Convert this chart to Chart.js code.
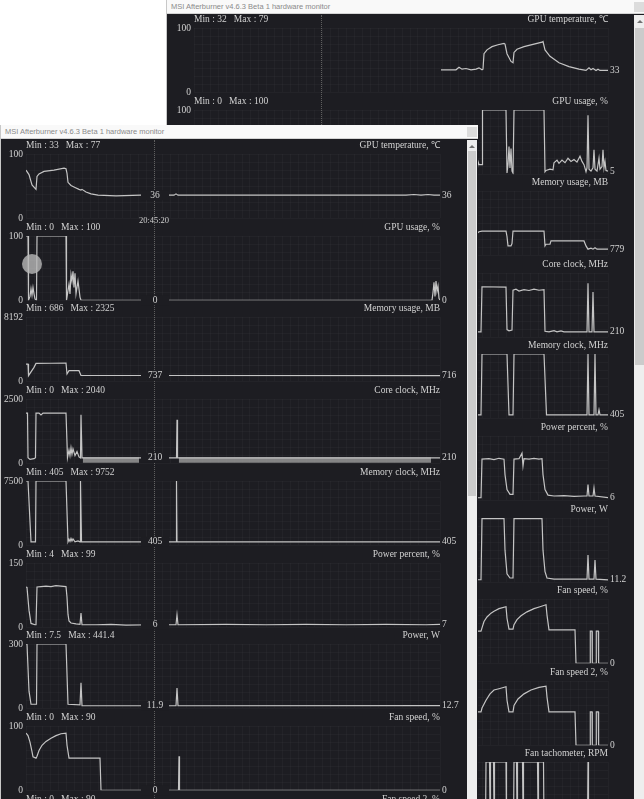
<!DOCTYPE html>
<html>
<head>
<meta charset="utf-8">
<title>MSI Afterburner hardware monitor</title>
<script src="https://cdn.jsdelivr.net/npm/chart.js@4.4.1/dist/chart.umd.min.js"></script>
<style>
  body { margin: 0; width: 644px; height: 799px; overflow: hidden; position: relative; background: #fff; }
  .win { position: absolute; overflow: hidden; background: #1d1d22; }
  .win canvas { position: absolute; }
  .titlebar { position: absolute; left: 0; top: 0; right: 0; height: 14px; background: #f9f9f9; border-bottom: 1px solid #d4d4d4;
              font: 7.5px 'Liberation Sans', sans-serif; color: #8a8a8a; line-height: 13px; padding-left: 4px; box-sizing: border-box; z-index: 3; }
  .closebox { position: absolute; top: 2px; width: 10px; height: 10px; background: #dcdcdc; }
  .scroll { position: absolute; top: 15px; bottom: 0; background: #eeeeee; z-index: 3; }
  .thumb { position: absolute; left: 1px; right: 1px; background: #cbcbcb; }
  .arrow { position: absolute; top: 5px; left: 50%; margin-left: -3px; width: 0; height: 0;
           border-left: 3px solid transparent; border-right: 3px solid transparent; border-bottom: 3px solid #707070; }
  .cursor { position: absolute; width: 0; border-left: 1px dotted #5e5e5e; z-index: 0; }
  .timelabel { position: absolute; width: 50px; text-align: center; font: 8.5px 'Liberation Serif', serif; color: #cfcfcf; z-index: 2; }
  .dot { position: absolute; width: 20px; height: 20px; border-radius: 50%; background: rgba(185,185,185,0.8); z-index: 2; }
</style>
</head>
<body>

<div class="win" id="back" style="left:166px; top:0; width:478px; height:799px; border-left:1px solid #c8c8c8;">
  <div class="titlebar">MSI Afterburner v4.6.3 Beta 1 hardware monitor<div class="closebox" style="right:1px"></div></div>
  <div class="cursor" style="left:154px; top:15px; height:784px;"></div>
  <div class="scroll" style="left:467px; width:11px;"><div class="arrow"></div><div class="thumb" style="top:13px; height:337px;"></div></div>
</div>

<div class="win" id="front" style="left:0; top:125px; width:477px; height:674px; border-left:1px solid #c8c8c8; z-index:5;">
  <div class="titlebar">MSI Afterburner v4.6.3 Beta 1 hardware monitor<div class="closebox" style="right:1px"></div></div>
  <div class="cursor" style="left:153px; top:15px; height:660px;"></div>
  <div class="timelabel" style="left:128px; top:90px;">20:45:20</div>
  <div class="dot" style="left:21px; top:129px;"></div>
  <div class="scroll" style="left:466px; width:10px;"><div class="arrow"></div><div class="thumb" style="top:11px; height:345px;"></div></div>
</div>

<script>
// time axis: 0..414 samples across the graph width, cursor sample marked by the dotted line

// ---------- front window (older session) ----------
const frontTitles = ['GPU temperature, ℃', 'GPU usage, %', 'Memory usage, MB', 'Core clock, MHz', 'Memory clock, MHz',
                     'Power percent, %', 'Power, W', 'Fan speed, %', 'Fan speed 2, %'];
const frontMinMax = ['Min : 33   Max : 77', 'Min : 0   Max : 100', 'Min : 686   Max : 2325', 'Min : 0   Max : 2040',
                     'Min : 405   Max : 9752', 'Min : 4   Max : 99', 'Min : 7.5   Max : 441.4', 'Min : 0   Max : 90', 'Min : 0   Max : 90'];
const frontTop = [100, 100, 8192, 2500, 7500, 150, 300, 100, 100];
const frontEnd = ['36', '0', '716', '210', '405', '7', '12.7', '0', ''];
const frontCursor = ['36', '0', '737', '210', '405', '6', '11.9', '0', ''];

const fTemp = [[0,75],[3,68],[6,52],[10,45],[11,65],[13,69],[18,73],[28,75],[38,78],[40,77],[41,70],[42,56],[45,51],[49,48],
  [53,45],[55,44],[56,45],[60,41],[65,38],[72,36],[90,35],[115,36],[148,36],[150,38],[152,36],[300,36],[380,36],[388,37],
  [395,36],[402,37],[408,36],[414,36]];
const fUsage = [[0,100],[2,100],[2.5,0],[4,6],[5,18],[6,8],[7,20],[8,10],[9,2],[10.5,0],[11,100],[40,100],[40.5,0],[43,25],
  [44,10],[45,40],[46,30],[47,45],[48,20],[49,42],[50,10],[52,30],[54,5],[55,0],[406,0],[407,12],[408,28],[409,6],[410,30],
  [411,14],[412,22],[413,3],[414,0]];
const fMemory = [[0,2190],[2,2190],[2.5,720],[8,1780],[10,2280],[25,2300],[40,2325],[41,930],[43,1350],[53,1350],[55,737],
  [128,737],[414,716]];
const fCore = [[0,1950],[1.5,1950],[2,220],[4,150],[8,180],[9.5,220],[10,1950],[13,1950],[15,1880],[17,1950],[40,1950],
  [41.5,220],[43,520],[44,300],[45,600],[46,350],[47,560],[49,300],[51,460],[53,250],[54.5,210],[55,1885],[56,210],
  [150.5,210],[151,1690],[151.5,210],[414,210]];
const fCoreBand = [[57,113,25,210],[153,405,25,210]];   // fast flicker drawn as a filled band: from, to, low, high
const fMemClk = [[0,7500],[2,7500],[5,405],[9.5,405],[10,7500],[40,7500],[42,405],[43,700],[44,450],[45,800],[46,500],
  [47,750],[49,400],[52,520],[54,405],[54.5,7500],[55.5,405],[150,405],[150.5,7500],[151,405],[414,405]];
const fPowerPct = [[0,94],[1,93],[3,40],[5,9],[9,6],[10,6],[11,94],[15,95],[20,96],[25,95],[30,97],[35,96],[40,95],[41,70],
  [42,30],[43,15],[45,10],[50,8],[54,7],[55,33],[56,6],[70,6],[85,7],[100,5],[128,6],[150,6],[151,29],[152,6],[200,7],
  [240,6],[280,7],[320,6],[360,7],[400,6],[414,7]];
const fPowerW = [[0,300],[1,300],[3,80],[5,19],[10.5,19],[11,300],[40,300],[42,19],[54,16],[55,119],[56,12],[150,12],
  [151,95],[152,12],[414,12.7]];
const fFan = [[0,89],[2,85],[4,75],[6,60],[7,52],[10,50],[11,53],[13,62],[16,70],[20,76],[25,81],[30,85],[35,88],[40,89],
  [41,70],[43,50],[74,50],[75,0],[152.5,0],[153,53],[153.5,0],[414,0]];
const fFan2 = [];

// ---------- back window (newer session, history starts at sample 247) ----------
const backTitles = ['GPU temperature, ℃', 'GPU usage, %', 'Memory usage, MB', 'Core clock, MHz', 'Memory clock, MHz',
                    'Power percent, %', 'Power, W', 'Fan speed, %', 'Fan speed 2, %', 'Fan tachometer, RPM'];
const backMinMax = ['Min : 32   Max : 79', 'Min : 0   Max : 100', '', '', '', '', '', '', '', ''];
const backTop = [100, 100, 8192, 2500, 7500, 150, 300, 100, 100, 3000];
const backEnd = ['33', '5', '779', '210', '405', '6', '11.2', '0', '0', ''];

const bTemp = [[247,35],[262,35],[265,39],[268,36],[272,37],[277,35],[282,36],[285,38],[288,35],[289,36],[290,60],[293,66],
  [298,71],[304,74],[310,76],[311,75],[313,60],[317,48],[319,46],[320,62],[323,67],[330,71],[340,75],[348,78],[349,79],
  [351,66],[356,56],[365,46],[375,40],[385,36],[392,34],[395,38],[397,35],[399,37],[402,34],[404,36],[406,34],[414,34]];
const bUsage = [[247,2],[270,3],[283,2],[284,20],[285,15],[288,15],[288.5,100],[312,100],[313,2],[314,15],[315,43],[316,10],
  [317,40],[318,5],[319,2],[320,100],[350,100],[351,4],[352,6],[356,8],[359,7],[360,18],[363,22],[365,17],[368,22],[371,18],
  [374,25],[377,20],[380,23],[383,19],[386,28],[388,20],[390,15],[392,4],[393,10],[394,92],[395,8],[397,5],[399,10],[400,38],
  [401,8],[403,5],[405,25],[406,8],[408,12],[409,38],[410,10],[411,20],[412,6],[414,5]];
const bMemory = [[247,2900],[284,2900],[285,3000],[288,3088],[312,3088],[313,2400],[314,1200],[317,1200],[318,1500],
  [319,3088],[350,3088],[351,1200],[352,1410],[356,1410],[357,1830],[390,1830],[392,1200],[394,780],[397,900],[399,780],
  [401,950],[403,780],[414,780]];
const bCore = [[247,210],[287,210],[288,1965],[312,1950],[313,300],[315,250],[318,280],[319,1830],[322,1870],[325,1800],
  [330,1850],[335,1820],[340,1870],[345,1830],[350,1850],[351,235],[355,210],[360,260],[363,210],[367,250],[370,210],
  [393,210],[394,2100],[395,210],[398,210],[399,1765],[400,210],[414,210]];
const bMemClk = [[247,405],[287,405],[288,7500],[313,7500],[315,405],[319,405],[320,7500],[350,7500],[352.5,405],[393,405],
  [394,7500],[395,405],[400,405],[401,7500],[402,405],[404,405],[405,1000],[406,405],[414,405]];
const bPowerPct = [[247,6],[287,6],[288,96],[295,97],[300,95],[305,98],[310,96],[311,60],[313,25],[316,14],[319,14],[320,96],
  [325,97],[328,110],[329,80],[330,97],[335,96],[340,98],[345,96],[348,97],[349,60],[351,25],[354,12],[360,10],[370,11],
  [380,9],[390,10],[393,10],[394,37],[395,10],[399,10],[400,29],[401,10],[414,6]];
const bPowerW = [[247,12],[287,12],[288,297],[310,297],[311,150],[313,40],[316,20],[319,20],[320,297],[348,297],[349,150],
  [351,50],[353,20],[360,15],[393,15],[394,127],[395,15],[400,15],[401,104],[402,15],[414,11.2]];
const bFan = [[247,50],[287,50],[288,55],[290,65],[293,72],[297,78],[300,81],[305,85],[312,88],[313,70],[315,53],[319,53],
  [320,60],[323,68],[327,74],[333,80],[340,85],[346,88],[352,91],[353,75],[355,52],[381,52],[382,0],[396,0],[396.3,50],
  [398,50],[398.3,0],[402,0],[402.3,50],[404.3,50],[404.6,0],[414,0]];
const bFan2 = [[247,52],[287,52],[288,58],[292,70],[296,80],[300,86],[305,88],[312,91],[313,70],[315,52],[319,52],[320,62],
  [324,72],[330,80],[337,86],[345,90],[352,92],[353,75],[355,52],[381,52],[382,0],[396,0],[396.3,52],[398,52],[398.3,0],
  [402,0],[402.3,52],[404.3,52],[404.6,0],[414,0]];
const bTach = [[247,0],[291.5,0],[292,3000],[295.5,3000],[296,800],[296.5,3000],[299.5,3000],[300,800],[300.5,3000],
  [312,3000],[312.5,0],[319.5,0],[320,3000],[322.5,3000],[323,800],[323.5,3000],[328.5,3000],[329,800],[329.5,3000],
  [343.5,3000],[344,800],[344.5,3000],[349.5,3000],[350,0],[393.5,0],[394,3000],[394.5,0],[414,0]];

const frontSeries = [fTemp, fUsage, fMemory, fCore, fMemClk, fPowerPct, fPowerW, fFan, fFan2];
const backSeries = [bTemp, bUsage, bMemory, bCore, bMemClk, bPowerPct, bPowerW, bFan, bFan2, bTach];

const BG = '#1d1d22';
const GRID = 'rgba(255,255,255,0.028)';
const LINE = '#c4c4c4';
const BAND = 'rgba(150,150,150,0.85)';
const TEXT = '#d2d2d2';
const FONT = "9.5px 'Liberation Serif', serif";

// titles, min/max, last value and cursor value drawn around each plot area
const panelText = {
  id: 'panelText',
  afterDatasetsDraw(chart, args, o) {
    const { ctx, chartArea: a, scales: { x, y } } = chart;
    ctx.save();
    ctx.font = FONT;
    ctx.fillStyle = TEXT;
    ctx.textBaseline = 'middle';
    ctx.textAlign = 'left';
    ctx.fillText(o.minmax, a.left, a.top - 9);
    ctx.textAlign = 'right';
    ctx.fillText(o.title, a.right, a.top - 9);
    const d = chart.data.datasets[0].data;
    if (d.length && o.end) {
      ctx.textAlign = 'left';
      ctx.fillText(o.end, a.right + 2, y.getPixelForValue(d[d.length - 1].y));
    }
    if (o.cursor) {
      const cx = x.getPixelForValue(o.cursorAt);
      const cy = y.getPixelForValue(parseFloat(o.cursor));
      ctx.fillStyle = BG;
      ctx.fillRect(cx - 13, cy - 5, 28, 10);
      ctx.fillStyle = TEXT;
      ctx.textAlign = 'center';
      ctx.fillText(o.cursor, cx + 1, cy);
    }
    ctx.restore();
  }
};

function makePanel(win, left, plotTop, width, cfg) {
  const c = document.createElement('canvas');
  c.width = width;
  c.height = 86;
  c.style.left = left + 'px';
  c.style.top = (plotTop - 13) + 'px';
  win.appendChild(c);

  const datasets = [{
    data: cfg.data.map(p => ({ x: p[0], y: p[1] })),
    borderColor: LINE, borderWidth: 1.2, pointRadius: 0, tension: 0, fill: false
  }];
  (cfg.bands || []).forEach(b => datasets.push({
    data: [{ x: b[0], y: b[3] }, { x: b[1], y: b[3] }],
    borderColor: BAND, borderWidth: 1, pointRadius: 0, backgroundColor: BAND, fill: { value: b[2] }
  }));

  new Chart(c, {
    type: 'line',
    data: { datasets },
    options: {
      responsive: false,
      animation: false,
      events: [],
      layout: { padding: { top: 13, bottom: 8, left: 0, right: width - 25 - 414 } },
      plugins: {
        legend: { display: false },
        tooltip: { enabled: false },
        panelText: { title: cfg.title, minmax: cfg.minmax, end: cfg.end, cursor: cfg.cursor, cursorAt: cfg.cursorAt }
      },
      scales: {
        x: {
          type: 'linear', min: 0, max: 414,
          border: { display: false },
          grid: { color: GRID, drawTicks: false },
          ticks: { display: false, stepSize: 8, maxTicksLimit: 100 },
          afterFit(s) { s.height = 0; }
        },
        y: {
          min: 0, max: cfg.top,
          border: { display: false },
          grid: { color: GRID, drawTicks: false },
          ticks: {
            count: 9, autoSkip: false, padding: 3, color: TEXT,
            font: { family: "'Liberation Serif', serif", size: 9.5 },
            callback: (v, i, t) => i === 0 ? '0' : (i === t.length - 1 ? String(cfg.top) : '')
          },
          afterFit(s) { s.width = 25; }
        }
      }
    },
    plugins: [panelText]
  });
}

const backWin = document.getElementById('back');
backSeries.forEach((data, i) => makePanel(backWin, 2, 28 + 81.6 * i, 465, {
  data, title: backTitles[i], minmax: backMinMax[i], top: backTop[i], end: backEnd[i]
}));

const frontWin = document.getElementById('front');
frontSeries.forEach((data, i) => makePanel(frontWin, 0, 29 + 81.7 * i, 466, {
  data, title: frontTitles[i], minmax: frontMinMax[i], top: frontTop[i], end: frontEnd[i],
  cursor: frontCursor[i], cursorAt: 128, bands: i === 3 ? fCoreBand : []
}));
</script>
</body>
</html>
